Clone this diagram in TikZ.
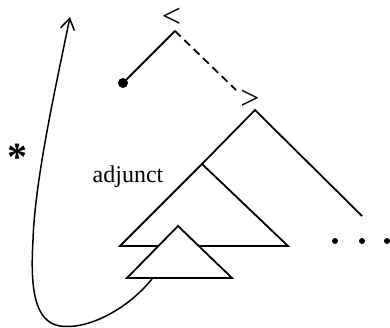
\documentclass[tikz,border=0pt]{standalone}
\usepackage{fontspec}
\setmainfont{Liberation Serif}
\usetikzlibrary{arrows.meta}
\begin{document}
\begin{tikzpicture}[x=1pt,y=-1pt,line width=1.8pt,
  lbl/.style={inner sep=0pt,font=\fontsize{24}{28}\selectfont},
  sym/.style={inner sep=0pt,font=\fontsize{34}{38}\selectfont},
  dotsty/.style={circle,fill=black,inner sep=0pt,minimum size=6pt},
  tri/.style={draw,fill=white},
  dashline/.style={dash pattern=on 8pt off 5pt}]
\useasboundingbox (0,0) rectangle (390,328);
% coordinates
\coordinate (A) at (175,31);
\coordinate (dEnd) at (236,90);
\coordinate (B) at (255,110);
\coordinate (BR) at (362,216);
\coordinate (MA) at (202,164);
\coordinate (ML) at (120,246);
\coordinate (MR) at (288,246);
\coordinate (SA) at (178,226);
\coordinate (SL) at (127,278);
\coordinate (SR) at (232,278);
\coordinate (cStart) at (152,279);
\coordinate (tip) at (70,17);
% labels
\node[sym] (lt) at (171.5,17.5) {<};
\node[sym] (gt) at (250,100) {>};
\node[lbl,anchor=base] (adj) at (128,183) {adjunct};
\node[inner sep=0pt,font=\fontsize{40}{44}\selectfont\bfseries] (star) at (17,157) {*};
% dot and branches
\node[dotsty,minimum size=10pt] (dot) at (123,83) {};
\draw (dot.center) -- (A);
\draw[dashline] (A) -- (dEnd);
% big tree
\draw (MA) -- (B) -- (BR);
\draw[tri] (MA) -- (MR) -- (ML) -- cycle;
\draw[tri] (SA) -- (SR) -- (SL) -- cycle;
% ellipsis dots
\node[dotsty] (e1) at (335,241) {};
\node[dotsty] (e2) at (362,241) {};
\node[dotsty] (e3) at (387,241) {};
% movement arrow
\draw[line width=1.5pt,-{Straight Barb[length=11pt,width=14pt]}] (cStart) .. controls (125,312) and (85,330) .. (60,326)
  .. controls (35,322) and (30,290) .. (33,240)
  .. controls (35,180) and (55,90) .. (tip);
\end{tikzpicture}
\end{document}
